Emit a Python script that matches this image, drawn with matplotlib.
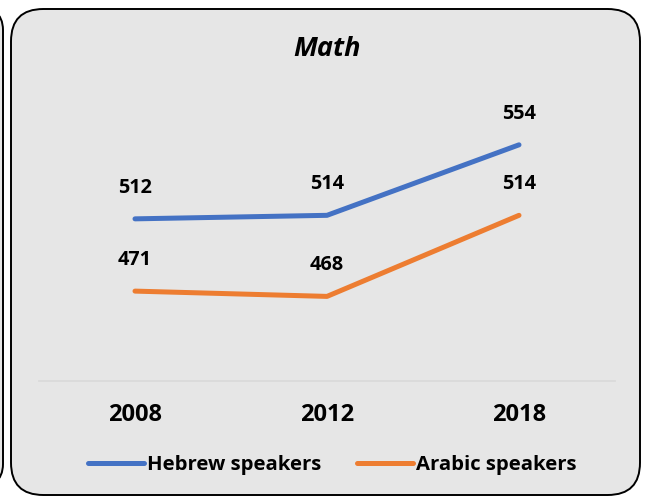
import matplotlib.pyplot as plt
from matplotlib.patches import FancyBboxPatch

years = ["2008", "2012", "2018"]
hebrew = [512, 514, 554]
arabic = [471, 468, 514]

W, H = 647, 499
plt.rcParams['font.family'] = ['Open Sans', 'DejaVu Sans']

fig = plt.figure(figsize=(W / 100, H / 100), dpi=100)
fig.patch.set_facecolor("white")

# neighbouring panel, only its right edge is visible
fig.patches.append(FancyBboxPatch((-200 / W, 10 / H), 203 / W, 484 / H,
                                  boxstyle="round,pad=0,rounding_size=0.05",
                                  transform=fig.transFigure, facecolor="#e6e6e6",
                                  edgecolor="black", linewidth=1.4, zorder=0))
# main panel
fig.patches.append(FancyBboxPatch((11 / W, 4 / H), 629 / W, 486 / H,
                                  boxstyle="round,pad=0,rounding_size=0.05",
                                  transform=fig.transFigure, facecolor="#e6e6e6",
                                  edgecolor="black", linewidth=1.4,
                                  mutation_aspect=W / H, zorder=0))

ax = fig.add_axes([39 / W, 118 / H, 576 / W, 282 / H])
ax.set_zorder(2)
ax.set_facecolor("none")
x = range(len(years))
ax.plot(x, hebrew, color="#4472C4", lw=3.6, solid_capstyle="round", label="Hebrew speakers")
ax.plot(x, arabic, color="#ED7D31", lw=3.6, solid_capstyle="round", label="Arabic speakers")

for xi, v in zip(x, hebrew):
    ax.annotate(str(v), (xi, v), xytext=(0, 31), textcoords="offset pixels",
                ha="center", va="center", fontsize=14.3, fontweight="bold")
for xi, v in zip(x, arabic):
    ax.annotate(str(v), (xi, v), xytext=(0, 31), textcoords="offset pixels",
                ha="center", va="center", fontsize=14.3, fontweight="bold")

ax.set_xlim(-0.5, 2.5)
ax.set_ylim(420, 580)
ax.set_xticks(list(x))
ax.set_xticklabels(years, fontsize=17, fontweight="bold")
ax.tick_params(axis="x", length=0, pad=15.5)
ax.set_yticks([])
for s in ["top", "left", "right"]:
    ax.spines[s].set_visible(False)
ax.spines["bottom"].set_color("#d9d9d9")
ax.spines["bottom"].set_linewidth(1.2)

fig.text(327 / W, 1 - 48.5 / H, "Math", ha="center", va="center",
         fontsize=19.5, fontweight="bold", fontstyle="italic")

fig.legend(loc="center", bbox_to_anchor=(332 / W, 1 - 465 / H), ncol=2,
           frameon=False, prop={"size": 14.6, "weight": "bold"},
           handlelength=2.76, handletextpad=0.15, columnspacing=1.75)

fig.savefig("out.png", dpi=100)
